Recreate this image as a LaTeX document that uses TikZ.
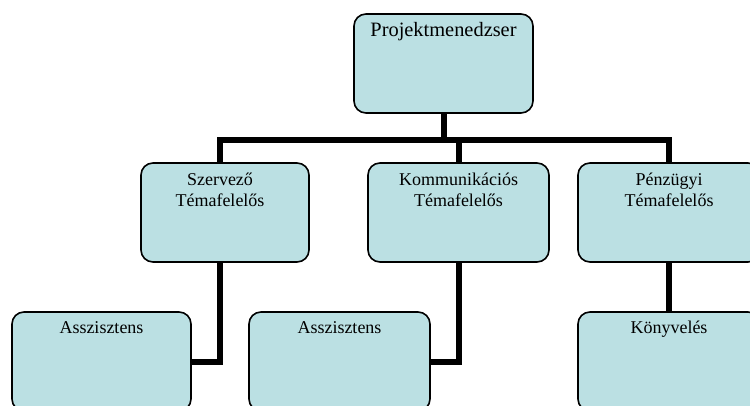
\documentclass[tikz,border=0pt]{standalone}
\usepackage{fontspec}
\setmainfont{Liberation Serif}
\definecolor{boxfill}{RGB}{187,224,227}
\tikzset{
  orgbox/.style={draw=black, line width=1.6pt, fill=boxfill, rounded corners=12pt,
    rectangle, inner sep=0pt, outer sep=0pt},
  orgtext/.style={anchor=base, inner sep=0pt, align=center,
    font=\fontsize{18}{21.6}\selectfont},
  link/.style={draw=black, line width=6pt, line join=miter}
}
\begin{document}
\begin{tikzpicture}[x=1pt, y=-1pt]
\useasboundingbox (0,0) rectangle (750,406);
\clip (0,0) rectangle (750,406);

% boxes
\node[orgbox] (pm) at (443.5,63.5) [minimum width=179pt, minimum height=99pt] {};
\node[orgbox] (sz) at (225,212.5) [minimum width=168pt, minimum height=99pt] {};
\node[orgbox] (km) at (458.5,212.5) [minimum width=181pt, minimum height=99pt] {};
\node[orgbox] (pg) at (669,212.5) [minimum width=182pt, minimum height=99pt] {};
\node[orgbox] (a1) at (101.5,361.5) [minimum width=179pt, minimum height=99pt] {};
\node[orgbox] (a2) at (339.5,361.5) [minimum width=181pt, minimum height=99pt] {};
\node[orgbox] (kv) at (669,361.5) [minimum width=182pt, minimum height=99pt] {};

% captions
\node[orgtext, font=\fontsize{20.4}{24}\selectfont] (pmt) at (443.5,37) {Projektmenedzser};
\node[orgtext] (szt) at (220,207) {Szervező\\Témafelelős};
\node[orgtext] (kmt) at (458.5,207) {Kommunikációs\\Témafelelős};
\node[orgtext] (pgt) at (669,207) {Pénzügyi\\Témafelelős};
\node[orgtext] (a1t) at (101.5,334) {Asszisztens};
\node[orgtext] (a2t) at (339.5,334) {Asszisztens};
\node[orgtext] (kvt) at (669,334) {Könyvelés};

% connectors
\coordinate (bar) at (443.5,140);
\draw[link] (pm.south) -- (bar);
\draw[link] (szt |- sz.north) |- (bar) -| (pgt |- pg.north);
\draw[link] (bar -| km.north) -- (km.north);
\draw[link] (szt |- sz.south) |- (a1.east);
\draw[link] (km.south) |- (a2.east);
\draw[link] (pgt |- pg.south) -- (pgt |- kv.north);
\end{tikzpicture}
\end{document}
